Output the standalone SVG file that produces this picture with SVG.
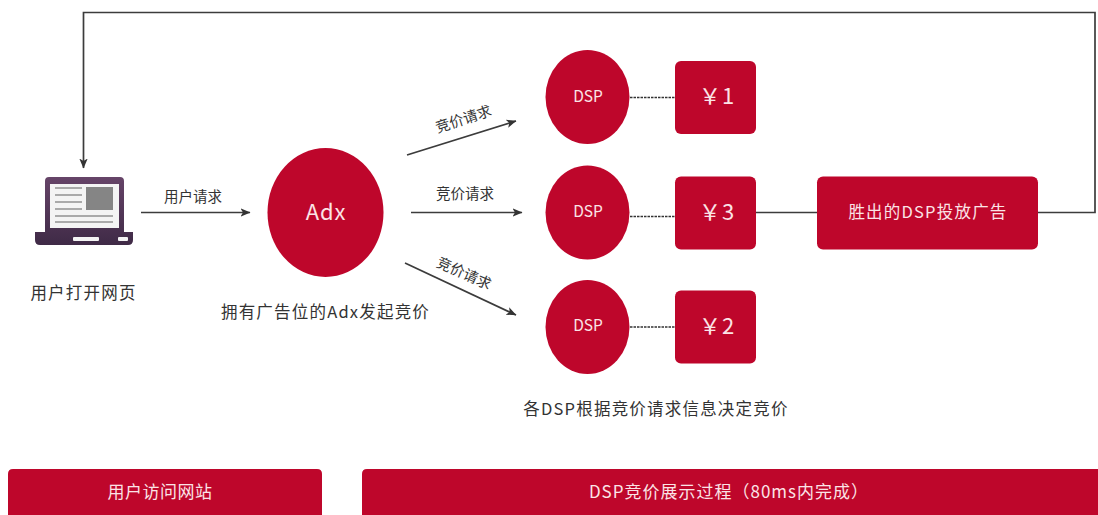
<svg xmlns="http://www.w3.org/2000/svg" width="1098" height="515" viewBox="0 0 1098 515">
<defs>
<marker id="a" viewBox="0 0 10 10" refX="9.5" refY="5" markerWidth="10" markerHeight="10" markerUnits="userSpaceOnUse" orient="auto"><path d="M0,0.8 L10,5 L0,9.2 L2.5,5 Z" fill="#333"/></marker>
<linearGradient id="lap" x1="0" y1="0" x2="0" y2="1"><stop offset="0" stop-color="#664468"/><stop offset="1" stop-color="#3f2a46"/></linearGradient>
</defs>
<style>
text{font-family:"Noto Sans CJK SC","Liberation Sans",sans-serif;}
.r{fill:#be062b;}
.w{fill:#fbe3e6;text-anchor:middle;}
.k{fill:#333;text-anchor:middle;}
.c{fill:none;stroke:#3c3c3c;stroke-width:1.7;}
.d{fill:none;stroke:#333;stroke-width:1.4;stroke-dasharray:2.5 1;}
.s{font-size:14.500px;}
.n{font-size:15.500px;}
.p{font-size:22px;letter-spacing:1px;}
.m{font-size:16.500px;letter-spacing:1.200px;}
</style>
<g id="connectors">
<path class="c" d="M1038,212.500 H1095 V12.500 H83.500 V168" marker-end="url(#a)"/>
<path class="c" d="M141,212.500 H250" marker-end="url(#a)"/>
<path class="c" d="M407,155 L516,121" marker-end="url(#a)"/>
<path class="c" d="M411,212.500 L522,212.500" marker-end="url(#a)"/>
<path class="c" d="M405,263 L516,315" marker-end="url(#a)"/>
<path class="d" d="M630,97.500 H675"/>
<path class="d" d="M630,216.500 H675"/>
<path class="d" d="M630,327 H675"/>
<path class="c" d="M756,212.500 H817"/>
<text class="k s" x="193" y="201.500">用户请求</text>
<text class="k s" transform="translate(465,124) rotate(-18)">竞价请求</text>
<text class="k s" x="465" y="198.500">竞价请求</text>
<text class="k s" transform="translate(462,278) rotate(24)">竞价请求</text>
</g>
<g id="user">
<path d="M45,181 Q45,177 49,177 H120 Q124,177 124,181 V232 H133 V240 Q133,245 128,245 H40 Q35,245 35,240 V232 H45 Z" fill="url(#lap)"/>
<rect x="50" y="184" width="69" height="44" fill="#f4f4f4"/>
<rect x="86" y="187" width="27" height="23" fill="#858585"/>
<path d="M55,188 H82 M55,195 H82 M55,202 H82 M55,209 H82 M55,216 H113 M55,222 H113" stroke="#aaa" stroke-width="2" fill="none"/>
<rect x="73" y="237" width="26" height="4" rx="1" fill="#f4f4f4"/>
<rect x="118" y="237" width="10" height="4" rx="1" fill="#f4f4f4"/>
<text class="k m" x="83.500" y="299">用户打开网页</text>
</g>
<g id="adx">
<ellipse class="r" cx="325.500" cy="212.500" rx="58" ry="64.500"/>
<text class="w" font-size="22" letter-spacing="0.800" x="326" y="220">Adx</text>
<text class="k m" x="325.500" y="318">拥有广告位的Adx发起竞价</text>
</g>
<g id="dsp1">
<ellipse class="r" cx="587.500" cy="97" rx="42" ry="47"/>
<text class="w n" x="588" y="102">DSP</text>
</g>
<g id="dsp3">
<ellipse class="r" cx="587.500" cy="212.500" rx="42" ry="47"/>
<text class="w n" x="588" y="217">DSP</text>
</g>
<g id="dsp2">
<ellipse class="r" cx="587.500" cy="327" rx="42" ry="47"/>
<text class="w n" x="588" y="331">DSP</text>
</g>
<g id="price1">
<rect class="r" x="675" y="61" width="81" height="73" rx="6"/>
<text class="w p" x="717" y="104">￥1</text>
</g>
<g id="price3">
<rect class="r" x="675" y="176.500" width="81" height="73" rx="6"/>
<text class="w p" x="717" y="220">￥3</text>
</g>
<g id="price2">
<rect class="r" x="675" y="290.500" width="81" height="73" rx="6"/>
<text class="w p" x="717" y="334">￥2</text>
</g>
<g id="winner">
<rect class="r" x="817" y="176.500" width="221" height="73" rx="6"/>
<text class="w m" x="928" y="218">胜出的DSP投放广告</text>
</g>
<g id="note">
<text class="k m" x="656" y="415">各DSP根据竞价请求信息决定竞价</text>
</g>
<g id="band1">
<path class="r" d="M8,515 V474 Q8,469 13,469 H317 Q322,469 322,474 V515 Z"/>
<text class="w" font-size="17" letter-spacing="0.500" x="160" y="498">用户访问网站</text>
</g>
<g id="band2">
<path class="r" d="M362,515 V474 Q362,469 367,469 H1098 V515 Z"/>
<text class="w" font-size="17" letter-spacing="1" x="729" y="498">DSP竞价展示过程（80ms内完成）</text>
</g>
</svg>
